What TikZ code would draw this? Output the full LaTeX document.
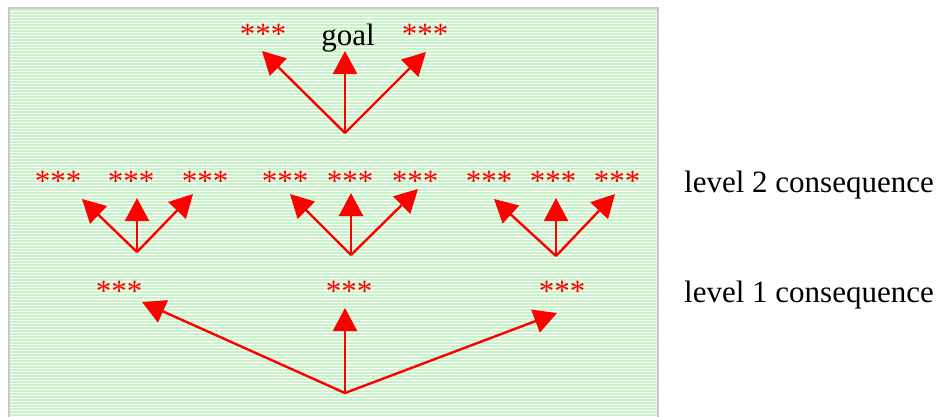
\documentclass[tikz,border=0pt]{standalone}
\usepackage{fontspec}
\setmainfont{Liberation Serif}
\usetikzlibrary{arrows.meta}
\definecolor{stripe}{RGB}{200,242,200}
\definecolor{framegray}{RGB}{200,200,200}
\begin{document}
\begin{tikzpicture}[x=1pt,y=-1pt,
  txt/.style={font=\fontsize{31}{36}\selectfont, inner sep=0pt, anchor=base},
  stars/.style={txt, text=red},
  fan/.style={draw=red, line width=2.4pt, -{Triangle[length=23pt,width=24pt]}}]
\useasboundingbox (0,0) rectangle (940,416);
\fill[white] (0,0) rectangle (940,416);
\foreach \y in {10,13,...,416} \draw[stripe, line width=1.3pt] (10,\y) -- (657,\y);
\draw[framegray, line width=2pt] (9,420) -- (9,8) -- (658,8) -- (658,420);

% top level
\node[txt] (goal) at (348,45) {goal};
\node[stars] (g1) at (263,44) {***};
\node[stars] (g3) at (425,44) {***};

% level 2
\node[stars] (a1) at (58,191) {***};
\node[stars] (a2) at (131,191) {***};
\node[stars] (a3) at (205,191) {***};
\node[stars] (b1) at (285,191) {***};
\node[stars] (b2) at (350,191) {***};
\node[stars] (b3) at (415,191) {***};
\node[stars] (c1) at (489,191) {***};
\node[stars] (c2) at (553,191) {***};
\node[stars] (c3) at (617,191) {***};

% level 1
\node[stars] (l1a) at (119,301) {***};
\node[stars] (l1b) at (349,301) {***};
\node[stars] (l1c) at (562,301) {***};

% labels
\node[txt, anchor=base west] (lab2) at (684,192) {level 2 consequence};
\node[txt, anchor=base west] (lab1) at (684,302) {level 1 consequence};

% fan origins and tips
\coordinate (o0) at (345,133);
\coordinate (t01) at (262,51);
\coordinate (t02) at (345,51);
\coordinate (t03) at (426,52);

\coordinate (oa) at (137,252);
\coordinate (ta1) at (82,199);
\coordinate (ta2) at (137,198);
\coordinate (ta3) at (193,194);

\coordinate (ob) at (351,255);
\coordinate (tb1) at (290,194);
\coordinate (tb2) at (351,193);
\coordinate (tb3) at (418,189);

\coordinate (oc) at (556,256);
\coordinate (tc1) at (494,199);
\coordinate (tc2) at (556,198);
\coordinate (tc3) at (615,194);

\coordinate (o1) at (345,393);
\coordinate (t11) at (142,302);
\coordinate (t12) at (345,308);
\coordinate (t13) at (557,313);

\foreach \o/\t in {o0/t01,o0/t02,o0/t03,oa/ta1,oa/ta2,oa/ta3,ob/tb1,ob/tb2,ob/tb3,oc/tc1,oc/tc2,oc/tc3,o1/t11,o1/t12,o1/t13}
  \draw[fan] (\o) -- (\t);
\end{tikzpicture}
\end{document}
